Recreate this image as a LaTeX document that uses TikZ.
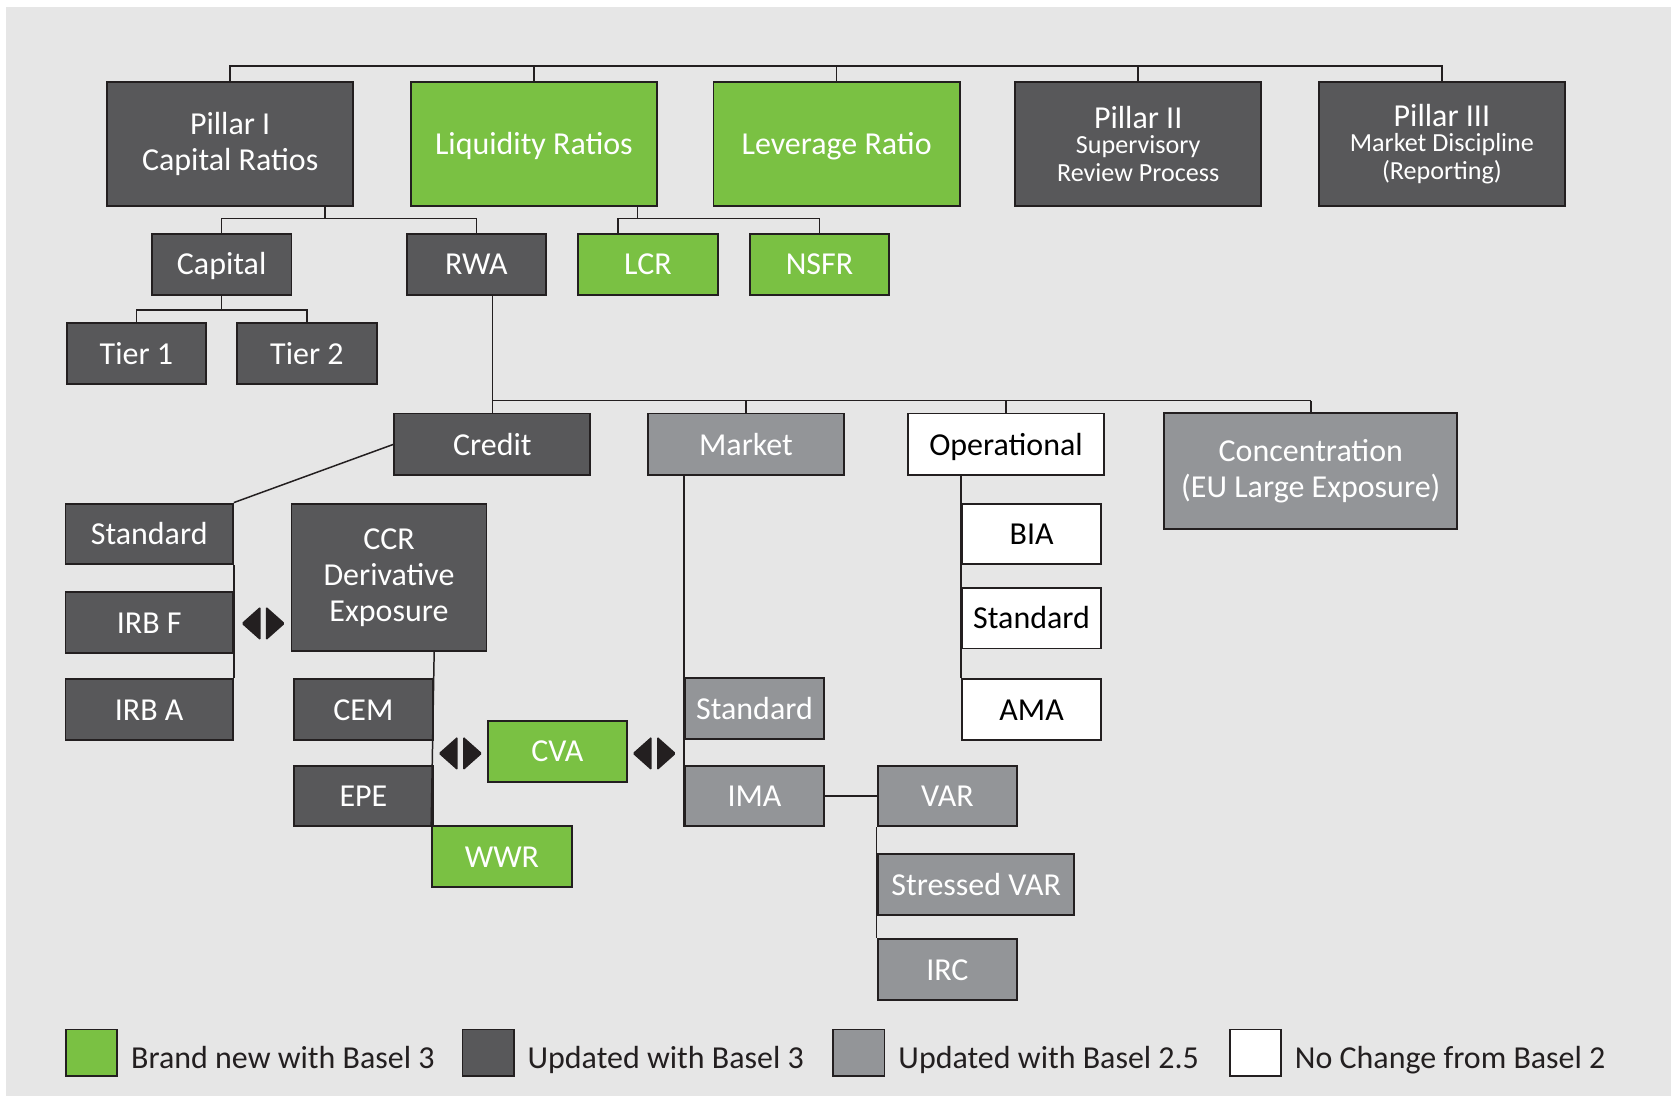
\documentclass[tikz,border=0pt]{standalone}
\usepackage{fontspec}
\setmainfont{Carlito}
\usetikzlibrary{positioning}

\definecolor{basgreen}{HTML}{7AC143}
\definecolor{basdark}{HTML}{58585A}
\definecolor{basmid}{HTML}{939598}
\definecolor{basbg}{HTML}{E6E6E6}
\definecolor{basline}{HTML}{231F20}

\newcommand{\subsize}{\fontsize{24.5}{23}\selectfont}

\tikzstyle{basebox} = [
    rectangle,
    draw=basline,
    line width=1.8pt,
    inner sep=0pt,
    align=center,
    font=\fontsize{30}{34}\selectfont
]
\tikzstyle{newbox} = [basebox, fill=basgreen, text=white]
\tikzstyle{updbox} = [basebox, fill=basdark, text=white]
\tikzstyle{midbox} = [basebox, fill=basmid, text=white]
\tikzstyle{oldbox} = [basebox, fill=white, text=black]
\tikzstyle{oneline} = [text height=20pt, text depth=0pt]
\tikzstyle{bigbox} = [minimum width=231pt, minimum height=116pt]
\tikzstyle{smallbox} = [oneline, minimum width=131pt, minimum height=57pt]
\tikzstyle{widebox} = [oneline, minimum width=184pt, minimum height=58pt]
\tikzstyle{legbox} = [minimum width=48pt, minimum height=44pt]
\tikzstyle{legtext} = [oneline, inner sep=0pt, yshift=-5pt, text=basline, font=\fontsize{30}{34}\selectfont]
\tikzstyle{link} = [draw=basline, line width=1.4pt]

\tikzset{flipmark/.pic={
    \fill[basline, rounded corners=1.5pt] (-2.5,-16) -- (-20.5,0) -- (-2.5,16) -- cycle;
    \fill[basline, rounded corners=1.5pt] (2.5,-16) -- (20.5,0) -- (2.5,16) -- cycle;
}}

\begin{document}
\begin{tikzpicture}[x=1pt, y=-1pt]
\useasboundingbox (0,0) rectangle (1568,1028);
\fill[basbg] (6,7) rectangle (1568,1028);

% top row
\node (pillarI) [updbox, bigbox] at (216,135) {Pillar I\\Capital Ratios};
\node (liquidity) [newbox, bigbox, oneline] at (501,135) {Liquidity Ratios};
\node (leverage) [newbox, bigbox, oneline] at (785,135) {Leverage Ratio};
\node (pillarII) [updbox, bigbox] at (1068,135)
{Pillar II\\[-10pt]\subsize Supervisory\\[-8pt]\subsize Review Process};
\node (pillarIII) [updbox, bigbox] at (1353,135)
{Pillar III\\[-10pt]\subsize Market Discipline\\[-8pt]\subsize (Reporting)};

% second row
\node (capital) [updbox, smallbox] at (208,248) {Capital};
\node (rwa) [updbox, smallbox] at (447,248) {RWA};
\node (lcr) [newbox, smallbox] at (608,248) {LCR};
\node (nsfr) [newbox, smallbox] at (769,248) {NSFR};

\node (tierI) [updbox, smallbox] at (128,332) {Tier 1};
\node (tierII) [updbox, smallbox] at (288,332) {Tier 2};

% risk types
\node (credit) [updbox, widebox] at (462,417) {Credit};
\node (market) [midbox, widebox] at (700,417) {Market};
\node (operational) [oldbox, widebox] at (944,417) {Operational};
\node (concentration) [midbox, minimum width=275pt, minimum height=109pt] at (1230,442)
{Concentration\\(EU Large Exposure)};

% credit
\node (stdcredit) [updbox, smallbox, minimum width=157pt] at (140,501) {Standard};
\node (irbf) [updbox, smallbox, minimum width=157pt] at (140,584) {IRB F};
\node (irba) [updbox, smallbox, minimum width=157pt] at (140,666) {IRB A};
\node (ccr) [updbox, minimum width=183pt, minimum height=138pt] at (365,542)
{CCR\\Derivative\\Exposure};
\node (cem) [updbox, smallbox] at (341,666) {CEM};
\node (epe) [updbox, smallbox] at (341,747) {EPE};
\node (wwr) [newbox, smallbox] at (471,804) {WWR};
\node (cva) [newbox, smallbox] at (523,705) {CVA};

% market
\node (stdmarket) [midbox, smallbox] at (708,665) {Standard};
\node (ima) [midbox, smallbox] at (708,747) {IMA};
\node (var) [midbox, smallbox] at (889,747) {VAR};
\node (svar) [midbox, smallbox, minimum width=184pt] at (916,830) {Stressed VAR};
\node (irc) [midbox, smallbox] at (889,910) {IRC};

% operational
\node (bia) [oldbox, smallbox] at (968,501) {BIA};
\node (stdop) [oldbox, smallbox] at (968,580) {Standard};
\node (ama) [oldbox, smallbox] at (968,666) {AMA};

% legend
\node (legnew) [newbox, legbox] at (86,988) {};
\node (legnewtext) [legtext, right=12pt of legnew] {Brand new with Basel 3};
\node (legupd) [updbox, legbox] at (458,988) {};
\node (legupdtext) [legtext, right=12pt of legupd] {Updated with Basel 3};
\node (legmid) [midbox, legbox] at (806,988) {};
\node (legmidtext) [legtext, right=12pt of legmid] {Updated with Basel 2.5};
\node (legold) [oldbox, legbox] at (1178,988) {};
\node (legoldtext) [legtext, right=12pt of legold] {No Change from Basel 2};

% connectors
\coordinate (topbar) at (0,62);
\coordinate (capbar) at (0,205);
\coordinate (tierbar) at (0,291);
\coordinate (riskbar) at (0,376);

\draw [link] (pillarI.north) |- (pillarIII.north |- topbar) -- (pillarIII.north);
\foreach \n in {liquidity, leverage, pillarII}
    \draw [link] (\n.north) -- (\n.north |- topbar);

\draw [link] ([xshift=89pt]pillarI.south) -- ([xshift=89pt]pillarI.south |- capbar);
\draw [link] (capital.north) |- (rwa.north |- capbar) -- (rwa.north);

\draw [link] ([xshift=97pt]liquidity.south) -- ([xshift=97pt]liquidity.south |- capbar);
\draw [link] ([xshift=-28pt]lcr.north) |- (nsfr.north |- capbar) -- (nsfr.north);

\draw [link] (capital.south) -- (capital.south |- tierbar);
\draw [link] (tierI.north) |- (tierII.north |- tierbar) -- (tierII.north);

\draw [link] (credit.north |- rwa.south) -- (credit.north);
\draw [link] (credit.north |- riskbar) -- (concentration.north |- riskbar);
\foreach \n in {market, operational, concentration}
    \draw [link] (\n.north) -- (\n.north |- riskbar);

\draw [link] (credit.west) -- (stdcredit.north east);
\draw [link] (stdcredit.south east) -- (irba.north east);
\draw [link] (cem.north east |- ccr.south) -- (wwr.north west);

\draw [link] (stdmarket.north west |- market.south) -- (ima.south west);
\draw [link] (ima) -- (var);
\draw [link] (var.south west) -- (irc.north west);

\draw [link] (bia.north west |- operational.south) -- (ama.north west);

\pic at (247,585) {flipmark};
\pic at (432,707) {flipmark};
\pic at (614,707) {flipmark};

\end{tikzpicture}
\end{document}
